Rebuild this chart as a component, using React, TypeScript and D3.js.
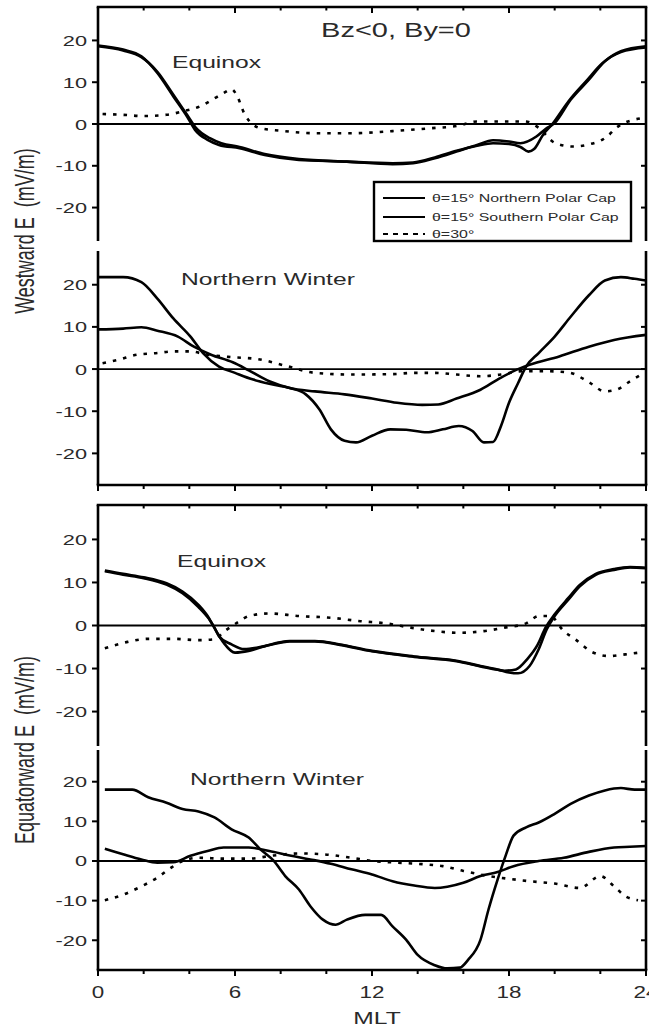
import React from "react";
import * as d3 from "d3";

type Pt = [number, number];

// ---- Data (MLT hours, E in mV/m) ----
const xTicksMajor = [0, 6, 12, 18, 24];
const xTicksMinor = [2, 4, 8, 10, 14, 16, 20, 22];
const yTicks = [-20, -10, 0, 10, 20];

// Panel 1: Westward E, Equinox
const westEqNorth: Pt[] = [[0,18.8],[1.1,17.8],[1.9,16.2],[2.6,12.2],[3.3,6.6],[3.9,1.8],[4.25,-1.4],[4.8,-3.8],[5.3,-5],[6.2,-5.8],[7.3,-7.4],[8.8,-8.6],[10.9,-9],[12.9,-9.6],[13.8,-9.4],[14.75,-8.2],[15.7,-6.6],[16.6,-5],[17.3,-3.9],[18,-4.2],[18.5,-4.6],[19.2,-3],[19.6,-1.2],[20,0.2],[20.7,5.8],[21.5,10.6],[22.2,15],[22.9,17.4],[24,18.6]];
const westEqSouth: Pt[] = [[0,18.6],[1.1,17.6],[1.9,16],[2.6,12.5],[3.3,7],[3.9,2.2],[4.3,-1],[4.9,-3.4],[5.4,-4.6],[6.2,-5.5],[7.3,-7.2],[8.8,-8.4],[10.9,-9],[12.9,-9.4],[13.8,-9.2],[14.75,-8],[15.7,-6.4],[16.6,-5.2],[17.3,-4.6],[18,-4.8],[18.5,-5.5],[18.85,-6.6],[19.1,-6],[19.5,-2.5],[19.9,0],[20.6,5.4],[21.4,10.4],[22.1,14.6],[22.9,17.2],[24,18.3]];
const westEq30: Pt[] = [[0.2,2.4],[1.1,2.2],[2,1.9],[3,2.2],[3.7,3],[4.5,4.3],[5,5.8],[5.5,7.4],[5.85,8.3],[6.1,6.6],[6.4,2.6],[7.1,-1],[8,-1.6],[9.5,-2.2],[11.1,-2.2],[12.9,-1.7],[14.6,-1],[15.7,-0.5],[16.6,0.6],[17.5,0.6],[18.7,0.6],[19.3,-0.9],[20,-4.5],[20.8,-5.4],[21.4,-5],[22.3,-3],[22.7,-0.9],[23.8,1.4]];

// Panel 2: Westward E, Northern Winter
const westWiNorth: Pt[] = [[0,21.8],[1.1,21.8],[1.9,20.6],[2.6,16.7],[3.3,12],[4.05,7.7],[4.6,3.8],[5.3,0.6],[6,-0.9],[6.8,-2.5],[7.5,-3.5],[8.4,-4.5],[9.1,-6],[9.7,-9.6],[10.2,-14.3],[10.8,-17],[11.3,-17.4],[12,-15.8],[12.8,-14.3],[13.5,-14.4],[14.4,-15],[15.1,-14.3],[15.8,-13.5],[16.4,-14.7],[16.9,-17.4],[17.3,-17.3],[17.65,-13.5],[18,-8],[18.4,-3.3],[18.75,0.6],[19.3,3.8],[20,7.7],[20.7,12.4],[21.5,17.5],[22.2,21],[22.9,21.8],[23.5,21.4],[24,21]];
const westWiSouth: Pt[] = [[0,9.4],[1.1,9.6],[1.9,9.9],[2.6,9.1],[3.5,7.7],[4.2,5.3],[4.95,3.4],[5.9,1.6],[6.6,-0.3],[7.5,-2.9],[8.4,-4.5],[9.5,-5.3],[10.8,-6],[12,-7],[13.1,-8],[14.2,-8.5],[14.9,-8.4],[15.7,-7],[16.75,-4.9],[17.5,-2.5],[18.2,-0.5],[18.9,1],[20.2,3],[21.5,5.3],[22.6,6.9],[24,8.1]];
const westWi30: Pt[] = [[0.2,1.4],[0.9,2.2],[1.7,3.4],[2.6,3.8],[3.3,4.2],[4,4.2],[4.8,3.4],[5.9,2.8],[6.95,2.4],[8.2,0.8],[9.5,-0.9],[11.1,-1.3],[12.9,-1.2],[13.8,-0.9],[14.75,-0.9],[15.7,-1.3],[16.75,-1.7],[17.65,-1.3],[18.6,-0.5],[19.5,-0.5],[20.6,-0.8],[21.5,-3.1],[22.2,-5.3],[22.7,-4.9],[23.3,-2.9],[23.7,-1.6]];

// Panel 3: Equatorward E, Equinox
const eqEqNorth: Pt[] = [[0.3,12.8],[1.1,12],[2,11.2],[3,9.8],[3.7,7.9],[4.4,4.8],[4.8,2.2],[5.05,-0.1],[5.5,-4],[6,-6.3],[6.6,-5.9],[7.3,-4.8],[8.4,-3.6],[9.5,-3.6],[10.6,-4.4],[12,-5.9],[13.85,-7.2],[15.7,-8.2],[16.75,-9.4],[17.5,-10.2],[18,-10.9],[18.4,-11.1],[18.9,-9.4],[19.3,-5.5],[19.65,-0.9],[20,2.2],[20.6,6],[21.1,9.1],[21.8,11.8],[22.6,12.9],[23.3,13.5],[24,13.3]];
const eqEqSouth: Pt[] = [[0.3,12.6],[1.1,11.8],[2,11],[3,9.5],[3.7,7.5],[4.4,4.3],[4.85,1.6],[5.1,-0.5],[5.3,-2.5],[5.85,-4.4],[6.4,-5.5],[7.3,-4.8],[8.4,-3.7],[9.5,-3.7],[10.6,-4.5],[12,-6],[13.85,-7.3],[15.7,-8.3],[16.75,-9.5],[17.5,-10.3],[17.8,-10.5],[18.3,-10.2],[18.8,-7.8],[19.25,-4.5],[19.6,-0.5],[20,2.6],[20.6,6.4],[21.1,9.4],[21.8,12],[22.6,13.1],[23.3,13.6],[24,13.4]];
const eqEq30: Pt[] = [[0.3,-5.3],[1.3,-3.8],[2.2,-3.1],[3.3,-3.1],[4.4,-3.4],[5.1,-3.2],[5.5,-1.5],[6.2,1],[6.6,2.2],[7.5,2.8],[8.8,2.2],[10.2,1.8],[11.5,1],[12.6,0.5],[13.7,-0.5],[14.75,-1.3],[15.8,-1.7],[16.9,-1.3],[17.8,-0.5],[18.75,0.5],[19.3,2.2],[19.8,2.2],[20.4,-1.3],[20.9,-3.2],[21.65,-6.2],[22.4,-7.1],[23.1,-6.7],[23.7,-6.3]];

// Panel 4: Equatorward E, Northern Winter
const eqWiNorth: Pt[] = [[0.3,18],[1.5,18],[2.2,16.1],[3,14.7],[3.7,13.1],[4.4,12.5],[5.1,11],[5.85,8],[6.6,5.9],[7.1,3],[7.7,0],[8.2,-3.8],[8.8,-7.2],[9.3,-11.4],[9.85,-14.8],[10.4,-16.1],[10.9,-14.8],[11.7,-13.6],[12.4,-13.6],[12.9,-16.5],[13.5,-19.9],[14,-23.7],[14.75,-26.3],[15.3,-27.1],[15.85,-26.9],[16.2,-25],[16.75,-19.9],[17.1,-12.3],[17.5,-4.7],[17.85,1.3],[18.2,6.4],[18.75,8.5],[19.3,9.7],[20,11.9],[20.7,14.4],[21.5,16.5],[22.2,17.8],[22.9,18.4],[23.5,18],[24,18]];
const eqWiSouth: Pt[] = [[0.3,3.1],[1.1,1.7],[1.9,0.4],[2.6,-0.4],[3.3,-0.3],[4.05,1.3],[4.8,2.5],[5.5,3.4],[6.6,3.4],[7.5,2.5],[8.4,1.4],[9.3,0.4],[10.2,-0.7],[11.1,-2.1],[12,-3.4],[12.9,-5.1],[13.85,-6.2],[14.75,-6.8],[15.3,-6.5],[16,-5.5],[16.75,-3.8],[17.5,-2.8],[18.2,-1.3],[19.3,0],[20.4,0.8],[21.5,2.3],[22.6,3.4],[23.3,3.6],[24,3.8]];
const eqWi30: Pt[] = [[0.3,-9.9],[1.1,-8.5],[1.9,-6.4],[2.6,-4.2],[3.1,-2.1],[3.7,0],[4.4,0.8],[5.5,0.6],[6.6,0.6],[7.7,1.4],[8.8,1.9],[9.85,1.7],[11.1,0.8],[12,0],[13.1,-0.4],[14.2,-0.8],[15.1,-1.3],[16,-2.5],[17.1,-3.8],[18,-4.5],[18.9,-5.1],[20,-5.7],[21.1,-6.8],[22,-3.8],[22.6,-6.4],[23.1,-8.9],[23.65,-9.9]];

const panelLabels = ["Equinox", "Northern Winter", "Equinox", "Northern Winter"];
const legendLabels = ["θ=15° Northern Polar Cap", "θ=15° Southern Polar Cap", "θ=30°"];

// ---- Layout ----
const W = 649, H = 1026;
const X0 = 98, X1 = 646;
const FONT = "'Liberation Sans', Arial, sans-serif";
const SX = 1.45;
const TXT = "#2a2a2a";

const panels = [
  { top: 7, bottom: 241, dom: [-28, 28], series: [westEqNorth, westEqSouth, westEq30], label: { x: 172, y: 68 }, topAxis: true, bottomAxis: false },
  { top: 251, bottom: 485, dom: [-27.5, 28], series: [westWiNorth, westWiSouth, westWi30], label: { x: 181, y: 285 }, topAxis: false, bottomAxis: true },
  { top: 505, bottom: 746, dom: [-28, 28], series: [eqEqNorth, eqEqSouth, eqEq30], label: { x: 177, y: 567 }, topAxis: true, bottomAxis: false },
  { top: 750, bottom: 970, dom: [-27.5, 28], series: [eqWiNorth, eqWiSouth, eqWi30], label: { x: 190, y: 785 }, topAxis: false, bottomAxis: true },
];

const x = d3.scaleLinear().domain([0, 24]).range([X0, X1]);

function STxt(props: { x: number; y: number; size: number; anchor?: string; sx?: number; children: React.ReactNode; fill?: string }) {
  const { x: tx, y: ty, size, anchor = "start", sx = SX, children, fill = TXT } = props;
  return (
    <text transform={`translate(${tx},${ty}) scale(${sx},1)`} fontFamily={FONT} fontSize={size}
      textAnchor={anchor as any} fill={fill} style={{ whiteSpace: "pre" }}>{children}</text>
  );
}

export default function App() {
  const sw = 2.6;
  return (
    <svg width={W} height={H} style={{ position: "absolute", left: 0, top: 0, background: "#fff" }}>
      <rect width={W} height={H} fill="#fff" />
      {panels.map((p, pi) => {
        const y = d3.scaleLinear().domain(p.dom).range([p.bottom, p.top]);
        const line = d3.line<Pt>().x(d => x(d[0])).y(d => y(d[1])).curve(d3.curveMonotoneX);
        return (
          <g key={pi}>
            {/* zero line */}
            <line x1={X0} x2={X1} y1={y(0)} y2={y(0)} stroke="#000" strokeWidth={1.8} />
            {/* curves */}
            <path d={line(p.series[0]) || ""} fill="none" stroke="#000" strokeWidth={sw} strokeLinejoin="round" />
            <path d={line(p.series[1]) || ""} fill="none" stroke="#000" strokeWidth={sw} strokeLinejoin="round" />
            <path d={line(p.series[2]) || ""} fill="none" stroke="#000" strokeWidth={2.6} strokeDasharray="3.5,7" />
            {/* vertical axes */}
            <line x1={X0} x2={X0} y1={p.top} y2={p.bottom} stroke="#000" strokeWidth={2.6} />
            <line x1={X1} x2={X1} y1={p.top} y2={p.bottom} stroke="#000" strokeWidth={2.6} />
            {yTicks.map(v => (
              <g key={v}>
                <line x1={X0 - 6} x2={X0} y1={y(v)} y2={y(v)} stroke="#000" strokeWidth={2} />
                <line x1={X1 - 5} x2={X1} y1={y(v)} y2={y(v)} stroke="#000" strokeWidth={2} />
                <STxt x={87} y={y(v) + 5.5} size={15} anchor="end">{String(v)}</STxt>
              </g>
            ))}
            {p.topAxis && (
              <g>
                <line x1={X0 - 1.3} x2={X1 + 1.3} y1={p.top} y2={p.top} stroke="#000" strokeWidth={2.6} />
                {xTicksMajor.map(t => <line key={"M" + t} x1={x(t)} x2={x(t)} y1={p.top} y2={p.top + 6} stroke="#000" strokeWidth={2} />)}
                {xTicksMinor.map(t => <line key={"m" + t} x1={x(t)} x2={x(t)} y1={p.top} y2={p.top + 3.5} stroke="#000" strokeWidth={2} />)}
              </g>
            )}
            {p.bottomAxis && (
              <g>
                <line x1={X0 - 1.3} x2={X1 + 1.3} y1={p.bottom} y2={p.bottom} stroke="#000" strokeWidth={2.6} />
                {xTicksMajor.map(t => <line key={"M" + t} x1={x(t)} x2={x(t)} y1={p.bottom} y2={p.bottom + 6} stroke="#000" strokeWidth={2} />)}
                {xTicksMinor.map(t => <line key={"m" + t} x1={x(t)} x2={x(t)} y1={p.bottom} y2={p.bottom + 4} stroke="#000" strokeWidth={2} />)}
              </g>
            )}
            <STxt x={p.label.x} y={p.label.y} size={17}>{panelLabels[pi]}</STxt>
          </g>
        );
      })}

      {/* title */}
      <STxt x={396} y={37} size={20} anchor="middle">Bz&lt;0, By=0</STxt>

      {/* legend */}
      <rect x={374} y={182} width={257} height={59} fill="#fff" stroke="#000" strokeWidth={2.4} />
      {legendLabels.map((lab, i) => {
        const ly = [198, 217, 234][i];
        return (
          <g key={i}>
            <line x1={383} x2={425} y1={ly} y2={ly} stroke="#000" strokeWidth={i < 2 ? 1.8 : 2.2} strokeDasharray={i < 2 ? undefined : "5,5"} />
            <STxt x={432} y={ly + 4} size={11}>{lab}</STxt>
          </g>
        );
      })}

      {/* x tick labels */}
      {xTicksMajor.map(t => (
        <STxt key={t} x={x(t)} y={998} size={16} anchor="middle" sx={1.4}>{String(t)}</STxt>
      ))}
      <STxt x={377} y={1024} size={17} anchor="middle">MLT</STxt>

      {/* y axis titles */}
      <text transform="translate(34,231) rotate(-90) scale(1,1.5)" fontFamily={FONT} fontSize={18} textAnchor="middle" fill={TXT} style={{ whiteSpace: "pre" }}>Westward E  (mV/m)</text>
      <text transform="translate(34,750) rotate(-90) scale(1,1.5)" fontFamily={FONT} fontSize={18} textAnchor="middle" fill={TXT} style={{ whiteSpace: "pre" }}>Equatorward E  (mV/m)</text>
    </svg>
  );
}
